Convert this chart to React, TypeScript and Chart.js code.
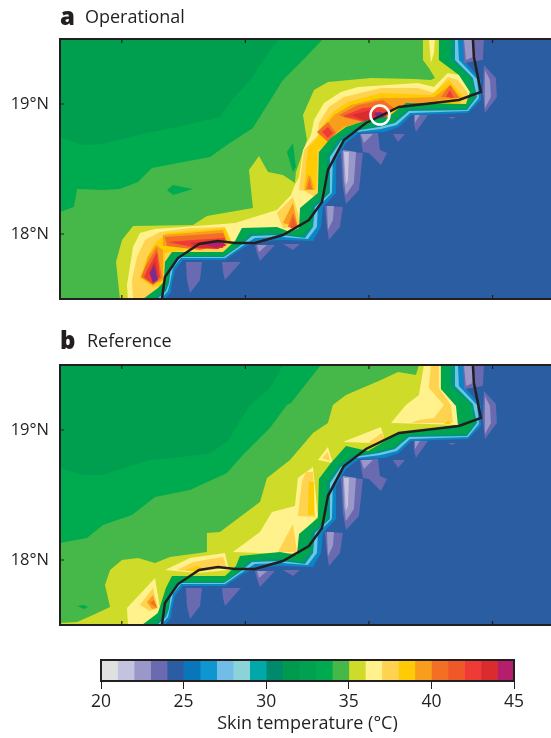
import React, { useEffect, useRef } from "react";
import { Chart, registerables } from "chart.js";

Chart.register(...registerables);

type Pts = number[][];

// ---------- tick labels & colour scale ----------
const lonTicks = [37, 38, 39, 40];
const latTicks = [18, 19];
const scaleEdges = [20, 21, 22, 23, 24, 25, 26, 27, 28, 29, 30, 31, 32, 33, 34, 35, 36, 37, 38, 39, 40, 41, 42, 43, 44, 45];
const scaleColors = ["#dfe0e2", "#c3c3e0", "#9a98c9", "#6a6ab0", "#2b5da3", "#0876b8", "#0f95d0", "#72bde8", "#8ad3d9", "#00a8a8", "#008a6c", "#009a4e", "#00a251", "#00ab4f", "#46b84a", "#cedb29", "#fff28c", "#ffd24f", "#ffcb05", "#f99d1c", "#f36f26", "#f15829", "#ef3a36", "#da2b2f", "#b41e6c"];

// ---------- shared map outlines (lon, lat) ----------
const fullMap: Pts = [[36.5, 17.5], [36.5, 19.5], [40.473, 19.5], [40.473, 17.5]];
const seaClose: Pts = [[39.95, 19.2], [39.95, 18.8], [39.0, 17.9], [37.6, 17.5]];
const seaCorner: Pts = [[40.473, 19.5], [40.473, 17.5]];

const coastline: Pts = [[37.325, 17.5], [37.349, 17.669], [37.455, 17.815], [37.625, 17.923], [37.778, 17.946], [37.916, 17.931], [38.077, 17.931], [38.304, 17.992], [38.514, 18.108], [38.62, 18.246], [38.668, 18.492], [38.797, 18.723], [38.976, 18.854], [39.243, 18.977], [39.728, 19.031], [39.906, 19.092], [39.849, 19.362], [39.841, 19.5]];
const hotSpot: Pts = [[39.089, 18.915]];

const contour24: Pts = [[37.349, 17.5], [37.398, 17.554], [37.406, 17.623], [37.43, 17.723], [37.495, 17.8], [37.835, 17.8], [37.98, 17.892], [38.102, 17.946], [38.304, 17.954], [38.547, 17.946], [38.611, 18.054], [38.627, 18.208], [38.733, 18.315], [38.733, 18.569], [38.814, 18.7], [38.919, 18.777], [39.122, 18.785], [39.243, 18.823], [39.34, 18.915], [39.801, 18.931], [39.906, 19.031], [39.906, 19.185], [39.768, 19.338], [39.76, 19.5]];
const contour26: Pts = [[37.317, 17.5], [37.374, 17.562], [37.39, 17.623], [37.414, 17.738], [37.479, 17.815], [37.835, 17.815], [37.964, 17.9], [38.077, 17.969], [38.296, 17.977], [38.506, 17.962], [38.579, 18.054], [38.587, 18.208], [38.7, 18.315], [38.708, 18.585], [38.789, 18.708], [38.895, 18.785], [39.097, 18.808], [39.226, 18.838], [39.332, 18.931], [39.801, 18.946], [39.89, 19.046], [39.874, 19.192], [39.728, 19.338], [39.72, 19.5]];
const contour28: Pts = [[37.285, 17.5], [37.358, 17.562], [37.382, 17.623], [37.398, 17.746], [37.463, 17.823], [37.827, 17.823], [37.956, 17.908], [38.053, 17.985], [38.288, 17.992], [38.482, 17.969], [38.547, 18.054], [38.563, 18.208], [38.684, 18.315], [38.684, 18.592], [38.773, 18.715], [38.878, 18.792], [39.081, 18.823], [39.21, 18.854], [39.324, 18.946], [39.793, 18.954], [39.874, 19.054], [39.841, 19.2], [39.696, 19.338], [39.696, 19.5]];
const contour30: Pts = [[37.26, 17.5], [37.341, 17.569], [37.374, 17.631], [37.39, 17.754], [37.447, 17.831], [37.827, 17.831], [37.948, 17.915], [38.037, 18.0], [38.28, 18.008], [38.45, 17.985], [38.523, 18.054], [38.531, 18.208], [38.66, 18.315], [38.66, 18.6], [38.749, 18.723], [38.862, 18.8], [39.065, 18.838], [39.194, 18.862], [39.315, 18.962], [39.793, 18.969], [39.857, 19.062], [39.817, 19.208], [39.663, 19.338], [39.663, 19.5]];

// cool patches over the sea
const seaP1: Pts = [[37.519, 17.785], [37.649, 17.785], [37.633, 17.646], [37.552, 17.546], [37.527, 17.646]];
const seaP2: Pts = [[37.811, 17.785], [37.964, 17.785], [37.835, 17.646], [37.819, 17.708]];
const seaP3: Pts = [[38.077, 17.915], [38.239, 17.915], [38.118, 17.792], [38.094, 17.854]];
const seaP3i: Pts = [[38.094, 17.915], [38.175, 17.915], [38.11, 17.862]];
const seaP4: Pts = [[38.304, 17.923], [38.442, 17.923], [38.385, 17.877]];
const seaP6: Pts = [[38.644, 18.215], [38.789, 18.208], [38.765, 18.054], [38.676, 17.954], [38.66, 18.054]];
const seaP6i: Pts = [[38.66, 18.215], [38.717, 18.215], [38.708, 18.108], [38.668, 18.031]];
const seaP7: Pts = [[38.773, 18.638], [38.951, 18.623], [38.919, 18.338], [38.814, 18.231], [38.789, 18.362]];
const seaP7i: Pts = [[38.789, 18.646], [38.895, 18.631], [38.878, 18.392], [38.814, 18.3], [38.797, 18.415]];
const seaP7c: Pts = [[38.797, 18.631], [38.838, 18.631], [38.83, 18.415], [38.814, 18.377]];
const seaP8: Pts = [[38.927, 18.769], [39.073, 18.777], [39.089, 18.646], [39.146, 18.623], [39.097, 18.531], [39.0, 18.623], [38.951, 18.631]];
const seaP8i: Pts = [[38.935, 18.769], [39.032, 18.769], [38.959, 18.7]];
const seaP9: Pts = [[39.194, 18.769], [39.291, 18.769], [39.235, 18.708]];
const seaP10: Pts = [[39.364, 18.915], [39.477, 18.915], [39.38, 18.785], [39.364, 18.854]];
const seaP10i: Pts = [[39.372, 18.915], [39.412, 18.915], [39.372, 18.854]];
const seaP11: Pts = [[39.639, 18.9], [39.704, 18.9], [39.671, 18.885]];
const seaP12: Pts = [[39.93, 19.3], [40.027, 19.2], [40.035, 19.054], [39.938, 18.931], [39.922, 19.085]];
const seaP12i: Pts = [[39.938, 19.262], [39.979, 19.185], [39.987, 19.054], [39.938, 18.969]];
const seaP13: Pts = [[39.76, 19.5], [39.93, 19.5], [39.922, 19.338], [39.768, 19.315]];
const seaP13i: Pts = [[39.768, 19.5], [39.841, 19.5], [39.841, 19.362], [39.785, 19.338]];

// ---------- panel a ----------
const aGreenEdge: Pts = [[37.171, 17.5], [37.293, 17.585], [37.341, 17.631], [37.349, 17.785], [37.406, 17.862], [37.819, 17.862], [37.916, 17.946], [37.972, 18.046], [38.255, 18.054], [38.361, 18.015], [38.434, 18.046], [38.442, 18.2], [38.587, 18.315], [38.595, 18.631], [38.692, 18.738], [38.814, 18.823], [39.016, 18.885], [39.154, 18.9], [39.299, 19.008], [39.785, 19.0], [39.817, 19.092], [39.728, 19.223], [39.566, 19.338], [39.566, 19.5]];
const aT33: Pts = [[36.5, 18.17], [36.613, 18.208], [36.638, 18.346], [36.848, 18.338], [36.985, 18.346], [37.131, 18.4], [37.244, 18.508], [37.714, 18.592], [37.875, 18.7], [38.061, 18.815], [38.304, 19.185], [38.369, 19.246], [38.49, 19.362], [38.628, 19.5], [36.5, 19.5]];
const aT32: Pts = [[36.5, 18.746], [36.686, 18.685], [36.84, 18.692], [37.204, 18.777], [37.447, 18.823], [37.794, 18.9], [37.891, 19.031], [38.053, 19.2], [38.199, 19.415], [38.28, 19.5], [36.5, 19.5]];
const aSpike: Pts = [[38.336, 18.631], [38.385, 18.7], [38.409, 18.515], [38.385, 18.477]];
const aBlob: Pts = [[37.366, 18.338], [37.414, 18.377], [37.576, 18.346], [37.414, 18.3]];
const aT35: Pts = [[36.985, 17.5], [36.953, 17.785], [37.002, 17.954], [37.091, 18.062], [37.576, 18.069], [37.689, 18.138], [38.061, 18.2], [38.029, 18.492], [38.11, 18.6], [38.183, 18.477], [38.304, 18.454], [38.401, 18.392], [38.409, 18.477], [38.498, 18.723], [38.466, 18.915], [38.555, 19.108], [38.668, 19.169], [39.016, 19.2], [39.364, 19.192], [39.501, 19.185], [39.534, 19.2], [39.485, 19.277], [39.437, 19.338], [39.437, 19.5], [39.615, 19.5], ...seaClose];
const aT36: Pts = [[37.05, 17.5], [37.042, 17.608], [37.091, 17.9], [37.147, 18.008], [37.269, 18.038], [37.819, 18.077], [37.916, 18.085], [38.255, 18.185], [38.369, 18.3], [38.393, 18.362], [38.434, 18.438], [38.466, 18.646], [38.531, 18.762], [38.555, 18.877], [38.636, 19.008], [38.773, 19.092], [38.911, 19.131], [39.396, 19.162], [39.526, 19.131], [39.638, 19.238], [39.728, 19.223], [39.825, 19.108], ...seaClose];
const aT36top: Pts = [[39.485, 19.5], [39.501, 19.315], [39.526, 19.392], [39.534, 19.5]];
const aT37low: Pts = [[37.091, 17.5], [37.082, 17.646], [37.123, 17.823], [37.188, 17.954], [37.309, 18.015], [37.552, 18.046], [37.835, 18.054], [37.891, 17.931], [37.9, 17.8], [37.6, 17.5]];
const aT37mid: Pts = [[38.255, 18.162], [38.385, 18.285], [38.425, 18.162], [38.442, 18.054], [38.304, 18.046]];
const aT37up: Pts = [[38.434, 18.338], [38.474, 18.646], [38.587, 18.762], [38.595, 18.854], [38.676, 18.977], [38.797, 19.054], [39.097, 19.123], [39.396, 19.123], [39.526, 19.085], [39.638, 19.208], [39.72, 19.185], [39.801, 19.085], [39.817, 18.954], [38.603, 18.262], [38.482, 18.331]];
const aT38up: Pts = [[38.474, 18.338], [38.506, 18.662], [38.587, 18.746], [38.611, 18.815], [38.708, 18.938], [38.83, 19.015], [39.097, 19.085], [39.501, 19.069], [39.647, 19.185], [39.768, 19.054], [39.736, 19.0], [38.725, 18.723], [38.587, 18.646], [38.571, 18.338]];
const aT39up: Pts = [[38.611, 18.785], [38.717, 18.915], [38.854, 18.992], [39.097, 19.046], [39.299, 19.046], [39.526, 19.054], [39.663, 19.146], [39.744, 19.046], [39.583, 19.031], [39.235, 18.977], [38.951, 18.862], [38.797, 18.823], [38.668, 18.723]];
const aT39col: Pts = [[38.506, 18.454], [38.482, 18.338], [38.555, 18.338], [38.531, 18.438]];
const aT40col: Pts = [[38.498, 18.346], [38.518, 18.43], [38.54, 18.346]];
const aT40up: Pts = [[38.757, 18.915], [38.911, 18.992], [39.113, 19.031], [39.202, 18.969], [39.162, 18.915], [38.992, 18.854], [38.814, 18.892]];
const aT40dia: Pts = [[38.579, 18.785], [38.668, 18.862], [38.733, 18.777], [38.668, 18.708]];
const aT42up: Pts = [[38.789, 18.908], [38.951, 18.969], [39.081, 18.977], [39.162, 18.938], [39.122, 18.862], [38.992, 18.854], [38.887, 18.885]];
const aT42dia: Pts = [[38.62, 18.785], [38.668, 18.823], [38.708, 18.777], [38.668, 18.738]];
const aT43up: Pts = [[38.862, 18.915], [39.016, 18.954], [39.138, 18.915], [39.073, 18.862], [38.968, 18.869]];
const aT45up: Pts = [[39.041, 18.931], [39.097, 18.938], [39.138, 18.915], [39.081, 18.869]];
const aT40right: Pts = [[39.583, 19.054], [39.655, 19.146], [39.728, 19.046]];
const aT42right: Pts = [[39.623, 19.054], [39.655, 19.108], [39.688, 19.046]];
const aT38ll: Pts = [[37.147, 17.662], [37.204, 17.823], [37.269, 17.931], [37.366, 18.008], [37.835, 18.046], [37.891, 17.931], [37.349, 17.854], [37.333, 17.608], [37.252, 17.592]];
const aT39ll: Pts = [[37.163, 17.669], [37.212, 17.823], [37.277, 17.915], [37.333, 17.877], [37.333, 17.646], [37.252, 17.608]];
const aT40ll: Pts = [[37.285, 17.9], [37.188, 17.746], [37.155, 17.669], [37.252, 17.608], [37.325, 17.662]];
const aT42ll: Pts = [[37.285, 17.862], [37.204, 17.723], [37.18, 17.669], [37.252, 17.615], [37.309, 17.669]];
const aT43ll: Pts = [[37.269, 17.8], [37.22, 17.7], [37.252, 17.631], [37.293, 17.669]];
const aT45ll: Pts = [[37.228, 17.7], [37.26, 17.762], [37.293, 17.646], [37.252, 17.623]];
const aT39band: Pts = [[37.333, 17.992], [37.819, 18.031], [37.859, 17.931], [37.333, 17.908]];
const aT40band: Pts = [[37.349, 17.977], [37.819, 18.008], [37.851, 17.931], [37.633, 17.877], [37.366, 17.908]];
const aT42band: Pts = [[37.374, 17.938], [37.576, 17.954], [37.835, 17.969], [37.819, 17.892], [37.608, 17.892]];
const aT43band: Pts = [[37.55, 17.93], [37.77, 17.955], [37.851, 17.915], [37.778, 17.885], [37.62, 17.89]];
const aT44band: Pts = [[37.64, 17.925], [37.78, 17.94], [37.84, 17.915], [37.76, 17.895]];
const aT39mid: Pts = [[38.304, 18.085], [38.385, 18.238], [38.425, 18.054]];
const aT40mid: Pts = [[38.344, 18.054], [38.385, 18.162], [38.425, 18.054]];
const aT41mid: Pts = [[38.361, 18.046], [38.385, 18.123], [38.417, 18.046]];

// ---------- panel b ----------
const bGreenEdge: Pts = [[37.163, 17.5], [37.293, 17.592], [37.357, 17.785], [37.406, 17.877], [37.835, 17.877], [37.924, 17.954], [37.956, 18.031], [38.28, 18.062], [38.417, 18.038], [38.434, 18.2], [38.587, 18.323], [38.595, 18.623], [38.692, 18.746], [38.814, 18.877], [38.992, 18.838], [39.243, 18.977], [39.72, 19.038], [39.704, 19.185], [39.582, 19.315], [39.582, 19.5]];
const bT33: Pts = [[36.5, 18.131], [36.718, 18.169], [36.848, 18.269], [37.082, 18.346], [37.269, 18.485], [37.552, 18.538], [37.851, 18.669], [37.98, 18.808], [38.199, 19.015], [38.336, 19.192], [38.369, 19.208], [38.611, 19.5], [36.5, 19.5]];
const bT32: Pts = [[36.5, 18.708], [36.686, 18.654], [36.848, 18.654], [37.01, 18.708], [37.228, 18.769], [37.495, 18.792], [37.714, 18.823], [37.851, 18.908], [38.037, 19.192], [38.199, 19.323], [38.304, 19.5], [36.5, 19.5]];
const bDash: Pts = [[36.638, 17.646], [36.694, 17.654], [36.727, 17.638], [36.694, 17.623]];
const bT35: Pts = [[36.5, 17.515], [36.638, 17.523], [36.767, 17.577], [36.905, 17.638], [36.864, 17.808], [36.905, 17.923], [37.002, 18.0], [37.131, 18.015], [37.269, 17.977], [37.39, 18.023], [37.689, 18.062], [37.689, 18.208], [37.794, 18.215], [38.118, 18.446], [38.175, 18.631], [38.361, 18.769], [38.547, 18.977], [38.668, 19.054], [38.708, 19.192], [38.814, 19.269], [39.097, 19.385], [39.235, 19.446], [39.38, 19.423], [39.404, 19.5], [39.631, 19.5], ...seaClose, [36.5, 17.5]];
const bT36ll: Pts = [[37.05, 17.5], [37.042, 17.631], [37.269, 17.862], [37.309, 17.631], [37.228, 17.5]];
const bT37ll: Pts = [[37.147, 17.654], [37.252, 17.785], [37.293, 17.631], [37.228, 17.608]];
const bT39ll: Pts = [[37.204, 17.677], [37.252, 17.731], [37.285, 17.631], [37.244, 17.623]];
const bT40ll: Pts = [[37.228, 17.669], [37.26, 17.692], [37.285, 17.631]];
const bT36band: Pts = [[37.349, 17.923], [37.552, 18.015], [37.835, 18.054], [37.867, 17.923], [37.608, 17.9]];
const bT37band: Pts = [[37.447, 17.923], [37.576, 17.985], [37.819, 18.023], [37.851, 17.938], [37.608, 17.908]];
const bT38band: Pts = [[37.511, 17.923], [37.608, 17.954], [37.689, 17.931], [37.608, 17.908]];
const bT36mid: Pts = [[37.899, 18.062], [38.118, 18.215], [38.215, 18.369], [38.401, 18.415], [38.425, 18.631], [38.547, 18.715], [38.587, 18.338], [38.442, 18.185], [38.425, 18.062], [38.32, 18.046]];
const bT37tri: Pts = [[38.264, 18.062], [38.385, 18.277], [38.417, 18.062]];
const bT37col: Pts = [[38.425, 18.338], [38.458, 18.608], [38.49, 18.677], [38.547, 18.677], [38.563, 18.331]];
const bT38col: Pts = [[38.506, 18.346], [38.514, 18.6], [38.555, 18.6], [38.555, 18.346]];
const bT36small: Pts = [[38.587, 18.769], [38.668, 18.869], [38.708, 18.746]];
const bT37small: Pts = [[38.62, 18.785], [38.668, 18.831], [38.684, 18.762]];
const bT36up: Pts = [[38.789, 18.908], [39.097, 19.023], [39.122, 18.946], [39.016, 18.9]];
const bT37up: Pts = [[39.0, 18.908], [39.105, 18.977], [39.122, 18.938], [39.057, 18.885]];
const bT36right: Pts = [[39.178, 19.054], [39.299, 19.192], [39.404, 19.269], [39.445, 19.5], [39.631, 19.5], [39.655, 19.338], [39.752, 19.185], [39.752, 19.038]];
const bT37right: Pts = [[39.34, 19.054], [39.404, 19.077], [39.526, 19.092], [39.607, 19.192], [39.485, 19.323], [39.501, 19.5], [39.566, 19.5], [39.566, 19.323], [39.663, 19.192], [39.679, 19.054]];
const bT38right: Pts = [[39.607, 19.046], [39.647, 19.077], [39.663, 19.046]];

// ---------- styles ----------
const ink = "#231f20";
const c = {
  t34: "#46b84a", t33: "#00ab4f", t32: "#009e4f", t35: "#cedb29", t36: "#fff28c", t37: "#ffd24f", t38: "#ffcb05",
  t39: "#f99d1c", t40: "#f36f26", t41: "#f15829", t42: "#ef3a36", t43: "#da2b2f", t44: "#b41e6c", t45: "#7b2d8e",
  green: "#00a54f", teal: "#00957f", light: "#6cc5e4", blue: "#0a86c6", sea: "#2b5da3",
  p3: "#6a6ab0", p2: "#9a98c9", p1: "#c3c3e0",
};

const seaLayers: [Pts, string][] = [
  [contour30, c.teal], [contour28, c.light], [contour26, c.blue], [contour24, c.sea],
];
const seaPatches: [Pts, string][] = [
  [seaP1, c.p3], [seaP2, c.p3], [seaP3, c.p3], [seaP3i, c.p2], [seaP4, c.p3], [seaP6, c.p3], [seaP6i, c.p2],
  [seaP7, c.p3], [seaP7i, c.p2], [seaP7c, c.p1], [seaP8, c.p3], [seaP8i, c.p2], [seaP9, c.p3], [seaP10, c.p3], [seaP10i, c.p2],
  [seaP11, c.p3], [seaP12, c.p3], [seaP12i, c.p2], [seaP13, c.p3], [seaP13i, c.p2],
];
const closed = (edge: Pts): Pts => [...edge, ...seaCorner];

const panelALayers: [Pts, string][] = [
  [fullMap, c.t34], [aT33, c.t33], [aT32, c.t32], [aSpike, c.t33], [aBlob, c.t33],
  [aT35, c.t35], [aT36, c.t36], [aT36top, c.t36],
  [aT37low, c.t37], [aT37mid, c.t37], [aT37up, c.t37], [aT38up, c.t38], [aT39up, c.t39], [aT39col, c.t39], [aT40col, c.t40],
  [aT40up, c.t40], [aT40dia, c.t40], [aT42up, c.t42], [aT42dia, c.t42], [aT43up, c.t43], [aT45up, c.t45],
  [aT40right, c.t40], [aT42right, c.t42],
  [aT38ll, c.t38], [aT39ll, c.t39], [aT40ll, c.t40], [aT42ll, c.t42], [aT43ll, c.t43], [aT45ll, c.t45],
  [aT39band, c.t39], [aT40band, c.t40], [aT42band, c.t42], [aT43band, c.t43], [aT44band, c.t44],
  [aT39mid, c.t39], [aT40mid, c.t40], [aT41mid, c.t41],
  [closed(aGreenEdge), c.green], ...seaLayers.map(([p, k]) => [closed(p), k] as [Pts, string]), ...seaPatches,
];
const panelBLayers: [Pts, string][] = [
  [fullMap, c.t34], [bT33, c.t33], [bT32, c.t32], [bDash, c.t33],
  [bT35, c.t35],
  [bT36ll, c.t36], [bT37ll, c.t37], [bT39ll, c.t39], [bT40ll, c.t40],
  [bT36band, c.t36], [bT37band, c.t37], [bT38band, c.t38],
  [bT36mid, c.t36], [bT37tri, c.t37], [bT37col, c.t37], [bT38col, c.t38],
  [bT36small, c.t36], [bT37small, c.t37], [bT36up, c.t36], [bT37up, c.t37],
  [bT36right, c.t36], [bT37right, c.t37], [bT38right, c.t38],
  [closed(bGreenEdge), c.green], ...seaLayers.map(([p, k]) => [closed(p), k] as [Pts, string]), ...seaPatches,
];

const frameTicks = {
  id: "frameTicks",
  afterDatasetsDraw(chart: any) {
    const { ctx, chartArea: a, scales } = chart;
    const len = 4;
    ctx.save();
    ctx.strokeStyle = ink;
    ctx.lineWidth = 2;
    ctx.beginPath();
    ctx.moveTo(a.right + 2, a.top);
    ctx.lineTo(a.left, a.top);
    ctx.lineTo(a.left, a.bottom);
    ctx.lineTo(a.right + 2, a.bottom);
    ctx.stroke();
    ctx.lineWidth = 1.2;
    ctx.beginPath();
    lonTicks.forEach((v) => {
      const x = scales.x.getPixelForValue(v);
      ctx.moveTo(x, a.top);
      ctx.lineTo(x, a.top + len);
      ctx.moveTo(x, a.bottom);
      ctx.lineTo(x, a.bottom - len);
    });
    latTicks.forEach((v) => {
      const y = scales.y.getPixelForValue(v);
      ctx.moveTo(a.left, y);
      ctx.lineTo(a.left + len, y);
    });
    ctx.stroke();
    ctx.restore();
  },
};

function mapConfig(layers: [Pts, string][], withSpot: boolean): any {
  const n = layers.length + 2;
  const datasets: any[] = layers.map(([pts, color], i) => ({
    data: pts.map(([x, y]) => ({ x, y })),
    showLine: true,
    fill: "shape",
    backgroundColor: color,
    borderWidth: 0,
    pointRadius: 0,
    order: n - i,
  }));
  datasets.push({
    data: coastline.map(([x, y]) => ({ x, y })),
    showLine: true,
    fill: false,
    borderColor: ink,
    borderWidth: 2.5,
    borderJoinStyle: "miter",
    pointRadius: 0,
    order: 1,
  });
  if (withSpot) {
    datasets.push({
      data: hotSpot.map(([x, y]) => ({ x, y })),
      showLine: false,
      pointRadius: 9.5,
      pointBackgroundColor: "rgba(0,0,0,0)",
      pointBorderColor: "#ffffff",
      pointBorderWidth: 2.5,
      order: 0,
    });
  }
  return {
    type: "scatter",
    data: { datasets },
    plugins: [frameTicks],
    options: {
      responsive: false,
      animation: false,
      events: [],
      devicePixelRatio: 1,
      layout: { autoPadding: false, padding: { top: 39, bottom: 21, left: 0, right: 0 } },
      plugins: { legend: { display: false }, tooltip: { enabled: false }, title: { display: false } },
      scales: {
        x: {
          type: "linear",
          min: 36.5,
          max: 40.473,
          grid: { display: false },
          border: { display: false },
          ticks: { display: false },
          afterFit: (s: any) => { s.height = 0; },
        },
        y: {
          type: "linear",
          min: 17.5,
          max: 19.5,
          grid: { display: false },
          border: { display: false },
          afterBuildTicks: (s: any) => { s.ticks = latTicks.map((value) => ({ value })); },
          ticks: {
            padding: 3,
            color: ink,
            font: { family: "'Open Sans'", size: 16.5 },
            callback: (v: any) => `${v}°N`,
          },
          afterFit: (s: any) => { s.width = 60; },
        },
      },
    },
  };
}

const scaleFrame = {
  id: "scaleFrame",
  afterDatasetsDraw(chart: any) {
    const { ctx, chartArea: a } = chart;
    ctx.save();
    ctx.strokeStyle = ink;
    ctx.lineWidth = 2;
    ctx.strokeRect(a.left, a.top, a.right - a.left, a.bottom - a.top);
    ctx.restore();
  },
};

function scaleConfig(): any {
  return {
    type: "bar",
    data: {
      labels: ["Skin temperature"],
      datasets: scaleColors.map((color, i) => ({
        data: [[scaleEdges[i], scaleEdges[i + 1]]],
        backgroundColor: color,
        borderWidth: 0,
        grouped: false,
        barPercentage: 1,
        categoryPercentage: 1,
      })),
    },
    plugins: [scaleFrame],
    options: {
      indexAxis: "y",
      responsive: false,
      animation: false,
      events: [],
      devicePixelRatio: 1,
      layout: { autoPadding: false, padding: { top: 5, left: 101, right: 37, bottom: 0 } },
      plugins: { legend: { display: false }, tooltip: { enabled: false } },
      scales: {
        y: { display: false },
        x: {
          type: "linear",
          min: 20,
          max: 45,
          grid: { drawOnChartArea: false, drawTicks: true, tickLength: 8, color: ink, lineWidth: 1 },
          border: { display: false },
          ticks: { stepSize: 5, maxRotation: 0, padding: 3, color: ink, font: { family: "'Open Sans'", size: 17.5 } },
          title: { display: true, text: "Skin temperature (°C)", color: ink, padding: 0, font: { family: "'Open Sans'", size: 18 } },
          afterFit: (s: any) => { s.height = 54; },
        },
      },
    },
  };
}

function Canvas({ top, height, config }: { top: number; height: number; config: () => any }) {
  const ref = useRef<HTMLCanvasElement>(null);
  useEffect(() => {
    const chart = new Chart(ref.current as HTMLCanvasElement, config());
    return () => chart.destroy();
  }, []);
  return <canvas ref={ref} width={551} height={height} style={{ position: "absolute", left: 0, top, width: 551, height }} />;
}

function Heading({ letter, label, top, labelLeft }: { letter: string; label: string; top: number; labelLeft: number }) {
  const base: React.CSSProperties = { position: "absolute", top, color: ink, fontFamily: "'Open Sans'", lineHeight: "30px", whiteSpace: "nowrap", zIndex: 2 };
  return (
    <>
      <div style={{ ...base, left: 60, fontSize: 24, fontWeight: 800 }}>{letter}</div>
      <div style={{ ...base, left: labelLeft, fontSize: 18 }}>{label}</div>
    </>
  );
}

export default function App() {
  return (
    <div style={{ position: "absolute", left: 0, top: 0, width: 551, height: 738, overflow: "hidden", background: "#fff" }}>
      <Canvas top={0} height={320} config={() => mapConfig(panelALayers, true)} />
      <Heading letter="a" label="Operational" top={1} labelLeft={85} />
      <Canvas top={326} height={320} config={() => mapConfig(panelBLayers, false)} />
      <Heading letter="b" label="Reference" top={325} labelLeft={87} />
      <Canvas top={655} height={80} config={scaleConfig} />
    </div>
  );
}
